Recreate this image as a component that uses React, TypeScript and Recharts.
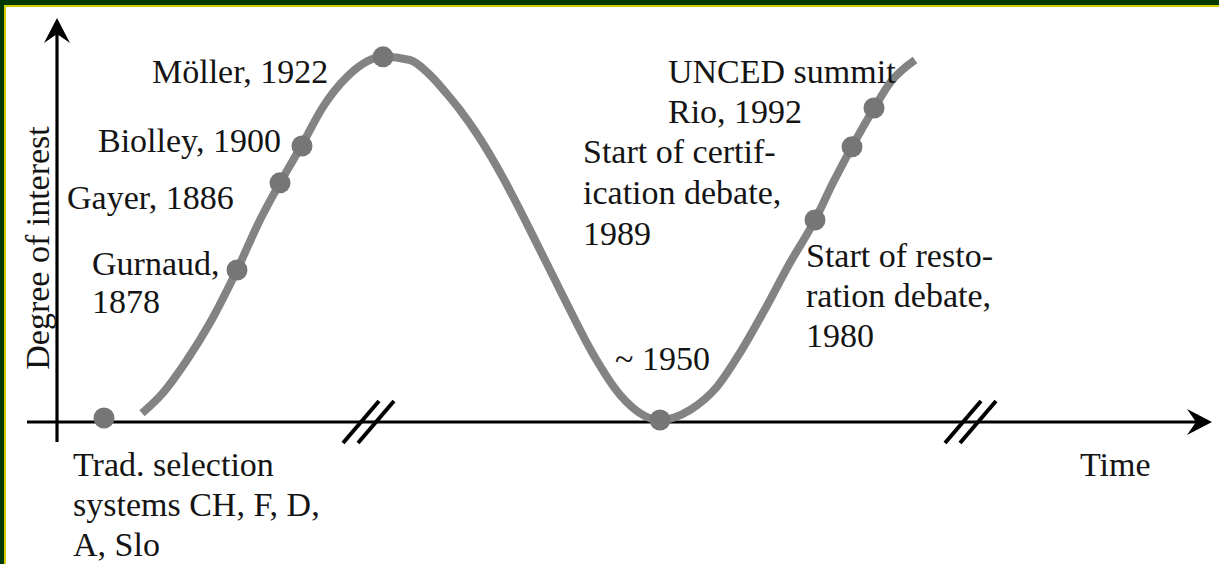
import React from 'react';
import { ComposedChart, Line, Scatter, XAxis, YAxis, ReferenceLine, ReferenceDot } from 'recharts';

// interest curve (x = time units, y = degree of interest 0..100)
const curveX = [8.5, 10.6, 13.0, 15.3, 18.0, 20.3, 22.3, 24.5, 26.6, 29.0, 32.6, 35.3, 37.3, 39.0, 40.3, 42.0, 43.6, 45.3, 46.6, 48.3, 50.0, 51.0, 53.6, 56.3, 60.3, 63.3, 66.0, 68.3, 70.6, 73.3, 75.8, 77.6, 79.5, 81.6, 83.3, 85.8];
const curveY = [2.2, 7.3, 15.5, 24.8, 38, 50.5, 59.8, 69.3, 78.8, 86.3, 91.3, 90.5, 86.75, 82.0, 78.0, 72.0, 65.5, 57.8, 51.5, 43.0, 34.5, 29.5, 17.0, 6.8, 0.5, 3, 8.8, 17.3, 27.3, 39.8, 50.5, 59.8, 68.8, 78, 84.8, 90.5];

// milestones on the curve
const eventNames = ['Trad. selection', 'Gurnaud', 'Gayer', 'Biolley', 'Möller', '~1950', 'Restoration', 'Certification', 'UNCED'];
const eventX = [4.7, 18.0, 22.3, 24.5, 32.6, 60.3, 75.8, 79.5, 81.7];
const eventY = [1, 38, 59.8, 69, 91.3, 0.5, 50.5, 68.8, 78.5];

const noteLines = [
  ['Möller, 1922'],
  ['Biolley, 1900'],
  ['Gayer, 1886'],
  ['Gurnaud,', '1878'],
  ['UNCED summit', 'Rio, 1992'],
  ['Start of certif-', 'ication debate,', '1989'],
  ['Start of resto-', 'ration debate,', '1980'],
  ['~ 1950'],
  ['Trad. selection', 'systems CH, F, D,', 'A, Slo'],
  ['Time'],
];

// where each note sits (left edge / first baseline, in chart units)
const notePos = [
  { x: 9.5, y: 84.75, lh: 40 },
  { x: 4.1, y: 67.5, lh: 40 },
  { x: 1.0, y: 53.25, lh: 40 },
  { x: 3.5, y: 36.75, lh: 38 },
  { x: 61.1, y: 84.75, lh: 40 },
  { x: 52.6, y: 64.75, lh: 41 },
  { x: 74.9, y: 38.75, lh: 40 },
  { x: 55.8, y: 13, lh: 40 },
  { x: 1.6, y: -13.5, lh: 40 },
  { x: 102.3, y: -13.5, lh: 40 },
];

const curve = curveX.map((x, i) => ({ x, y: curveY[i] }));
const events = eventX.map((x, i) => ({ x, y: eventY[i], name: eventNames[i] }));

const FONT = 'Liberation Serif, DejaVu Serif, Times New Roman, serif';
const INK = '#141414';
const FS = 34;

const arrowLine = (p: any) => {
  const dx = p.x2 - p.x1;
  const dy = p.y2 - p.y1;
  const len = Math.hypot(dx, dy) || 1;
  const ux = dx / len, uy = dy / len;
  const nx = -uy, ny = ux;
  const L = 25, W = 13, N = 16;
  const pts = [
    [p.x2, p.y2],
    [p.x2 - L * ux + W * nx, p.y2 - L * uy + W * ny],
    [p.x2 - N * ux, p.y2 - N * uy],
    [p.x2 - L * ux - W * nx, p.y2 - L * uy - W * ny],
  ].map((q) => q.join(',')).join(' ');
  return (
    <g>
      <line x1={p.x1} y1={p.y1} x2={p.x2 - N * ux} y2={p.y2 - N * uy} stroke="#000" strokeWidth={3.2} />
      <polygon points={pts} fill="#000" />
    </g>
  );
};

const noteShape = (lines: string[], lh: number) => (p: any) => (
  <text x={p.cx} y={p.cy} style={{ fontFamily: FONT, fontSize: FS }} fill={INK}>
    {lines.map((l, i) => (
      <tspan key={i} x={p.cx} dy={i === 0 ? 0 : lh}>{l}</tspan>
    ))}
  </text>
);

const yTitle = (p: any) => (
  <text x={p.cx} y={p.cy} transform={`rotate(-90, ${p.cx}, ${p.cy})`} textAnchor="middle" style={{ fontFamily: FONT, fontSize: FS }} fill={INK}>
    Degree of interest
  </text>
);

const breaks = [28.6, 30.1, 88.8, 90.3];

export default function App() {
  return (
    <div style={{ position: 'fixed', left: 0, top: 0, width: 1219, height: 564, background: '#fff', overflow: 'hidden', fontFamily: FONT }}>
      <div style={{ position: 'absolute', left: 0, top: 0, width: 1219, height: 5, background: '#023802' }} />
      <div style={{ position: 'absolute', left: 0, top: 5, width: 1219, height: 2, background: '#cfcf00' }} />
      <div style={{ position: 'absolute', left: 0, top: 0, width: 4, height: 564, background: '#023802' }} />
      <div style={{ position: 'absolute', left: 4, top: 5, width: 2, height: 559, background: '#cfcf00' }} />
      <div style={{ position: 'absolute', left: 0, top: 0 }}>
        <ComposedChart width={1219} height={564} margin={{ top: 22, right: 12, bottom: 142, left: 57 }}>
          <XAxis type="number" dataKey="x" domain={[0, 115]} hide />
          <YAxis type="number" dataKey="y" domain={[0, 100]} hide />
          <ReferenceLine segment={[{ x: -3, y: 0 }, { x: 115.5, y: 0 }]} ifOverflow="visible" shape={arrowLine} />
          <ReferenceLine segment={[{ x: 0, y: -5 }, { x: 0, y: 101 }]} ifOverflow="visible" shape={arrowLine} />
          {breaks.map((b) => (
            <ReferenceLine key={b} segment={[{ x: b, y: -5.25 }, { x: b + 3.6, y: 5.25 }]} ifOverflow="visible" stroke="#000" strokeWidth={4} />
          ))}
          <Line data={curve} dataKey="y" type="monotone" stroke="#838383" strokeWidth={8} dot={false} activeDot={false} isAnimationActive={false} />
          <Scatter
            data={events}
            dataKey="y"
            isAnimationActive={false}
            shape={(p: any) => <circle cx={p.cx} cy={p.cy} r={10.5} fill="#767676" />}
          />
          {noteLines.map((lines, i) => (
            <ReferenceDot key={i} x={notePos[i].x} y={notePos[i].y} r={0} ifOverflow="visible" shape={noteShape(lines, notePos[i].lh)} />
          ))}
          <ReferenceDot x={-0.8} y={43.5} r={0} ifOverflow="visible" shape={yTitle} />
        </ComposedChart>
      </div>
    </div>
  );
}
